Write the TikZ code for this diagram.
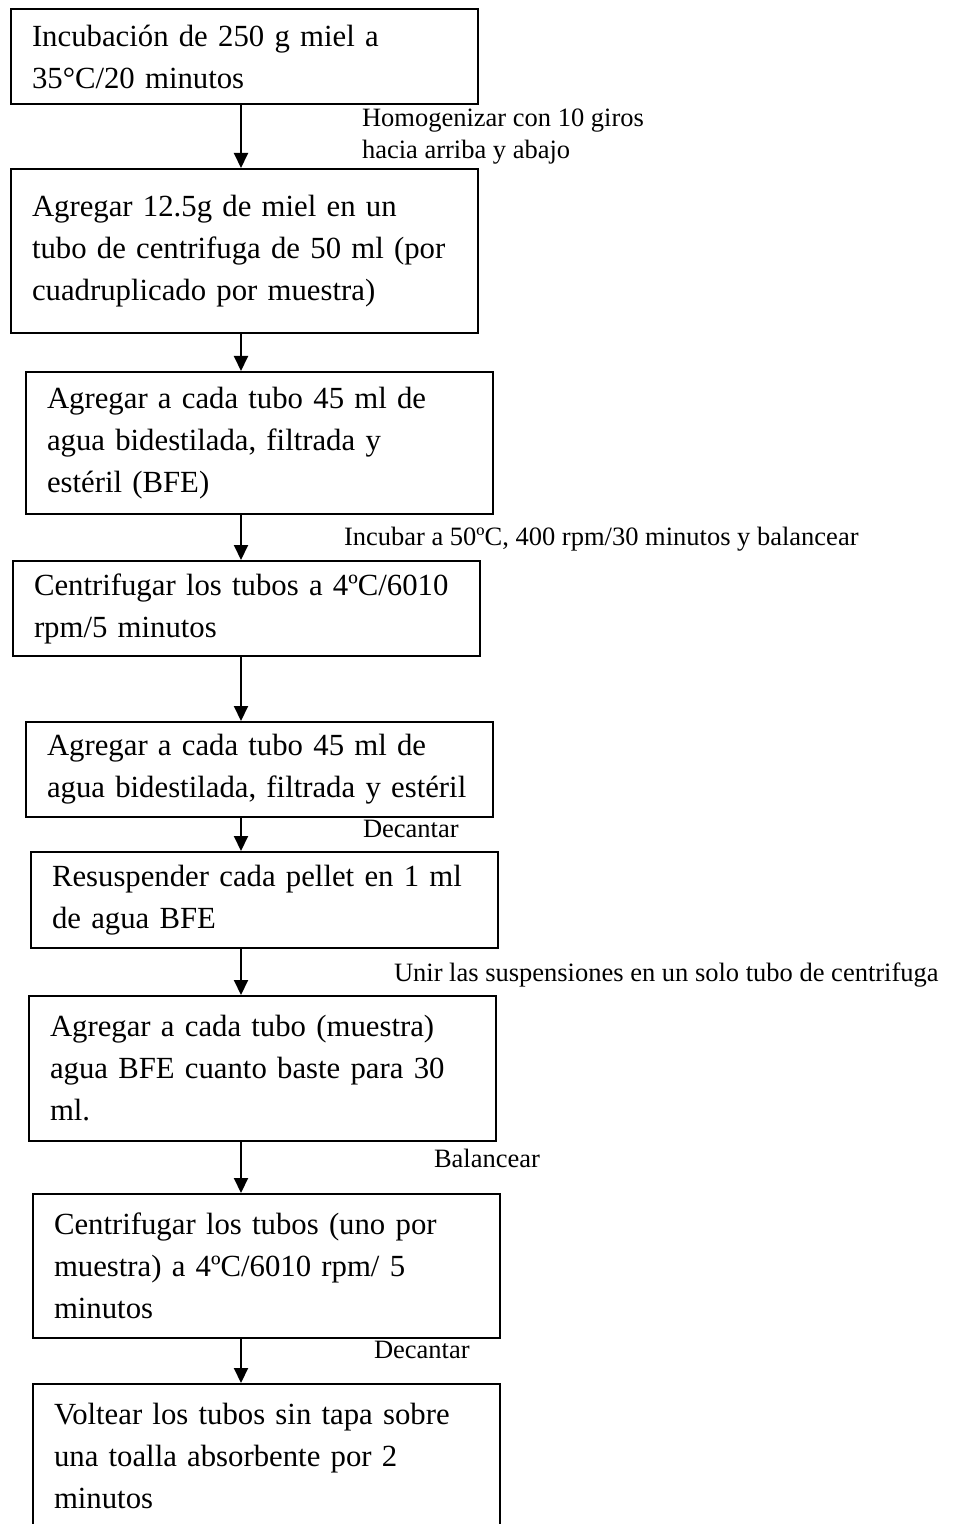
\documentclass[tikz,border=0pt]{standalone}
\usepackage{fontspec}
\setmainfont{Liberation Serif}
\usetikzlibrary{arrows.meta, positioning}
\tikzset{stepbox/.style={draw, rectangle, line width=0.8pt, anchor=north west, minimum width=186.8pt, text width=170pt, inner xsep=8.4pt, inner ysep=0pt, align=left, font=\fontsize{12.3}{16.8}\selectfont}}
\tikzset{note/.style={anchor=west, inner sep=0pt, align=left, font=\fontsize{10.6}{12.8}\selectfont}}

\begin{document}
\begin{tikzpicture}[x=0.4pt, y=-0.4pt, >={Triangle[length=6pt,width=5.6pt]}, line width=0.8pt]
    \useasboundingbox (0,0) rectangle (958,1524);
    \clip (0,0) rectangle (958,1524);
    \coordinate (axis) at (241,0);

    \node[stepbox, minimum height=38pt] (incub) at (10,8) {Incubación de 250 g miel a\\35°C/20 minutos};
    \node[stepbox, minimum height=65.6pt] (agregar) at (10,168) {Agregar 12.5g de miel en un\\tubo de centrifuga de 50 ml (por\\cuadruplicado por muestra)};
    \node[note] (homog) at (361,137) {Homogenizar con 10 giros\\hacia arriba y abajo};
    \draw[->] (incub.south -| axis) -- (agregar.north -| axis);

    \node[stepbox, minimum height=56.8pt] (agua) at (25,371) {Agregar a cada tubo 45 ml de\\agua bidestilada, filtrada y\\estéril (BFE)};
    \draw[->] (agregar.south -| axis) -- (agua.north -| axis);

    \node[stepbox, minimum height=38pt] (centrif) at (12,560) {Centrifugar los tubos a 4ºC/6010\\rpm/5 minutos};
    \node[note] (incubar) at (343,539) {Incubar a 50ºC, 400 rpm/30 minutos y balancear};
    \draw[->] (agua.south -| axis) -- (centrif.north -| axis);

    \node[stepbox, minimum height=38pt] (lavado) at (25,721) {Agregar a cada tubo 45 ml de\\agua bidestilada, filtrada y estéril};
    \draw[->] (centrif.south -| axis) -- (lavado.north -| axis);

    \node[stepbox, minimum height=38.4pt] (resusp) at (30,851) {Resuspender cada pellet en 1 ml\\de agua BFE};
    \node[note] (decant) at (362,829) {Decantar};
    \draw[->] (lavado.south -| axis) -- (resusp.north -| axis);

    \node[stepbox, minimum height=58pt] (aforo) at (28,995) {Agregar a cada tubo (muestra)\\agua BFE cuanto baste para 30\\ml.};
    \node[note] (unir) at (393,975) {Unir las suspensiones en un solo tubo de centrifuga};
    \draw[->] (resusp.south -| axis) -- (aforo.north -| axis);

    \node[stepbox, minimum height=57.6pt] (centrifb) at (32,1193) {Centrifugar los tubos (uno por\\muestra) a 4ºC/6010 rpm/ 5\\minutos};
    \node[note] (balanc) at (433,1158) {Balancear};
    \draw[->] (aforo.south -| axis) -- (centrifb.north -| axis);

    \node[stepbox, minimum height=57.6pt] (voltear) at (32,1383) {Voltear los tubos sin tapa sobre\\una toalla absorbente por 2\\minutos};
    \node[note] (decantb) at (373,1350) {Decantar};
    \draw[->] (centrifb.south -| axis) -- (voltear.north -| axis);
\end{tikzpicture}
\end{document}
